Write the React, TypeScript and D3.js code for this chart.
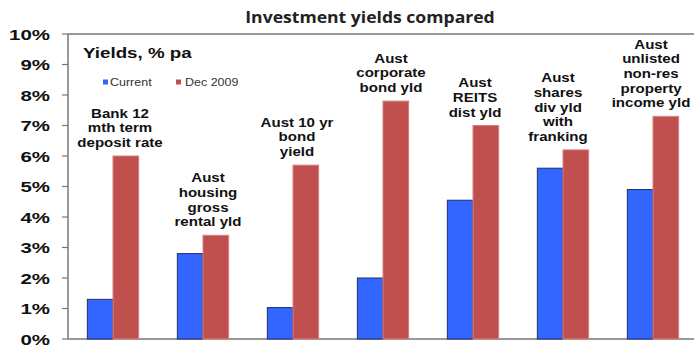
import React from "react";
import * as d3 from "d3";

const categories: string[][] = [
  ["Bank 12", "mth term", "deposit rate"],
  ["Aust", "housing", "gross", "rental yld"],
  ["Aust 10 yr", "bond", "yield"],
  ["Aust", "corporate", "bond yld"],
  ["Aust", "REITS", "dist yld"],
  ["Aust", "shares", "div yld", "with", "franking"],
  ["Aust", "unlisted", "non-res", "property", "income yld"],
];
const currentValues = [1.3, 2.8, 1.03, 2.0, 4.55, 5.6, 4.9];
const dec2009Values = [6.0, 3.4, 5.7, 7.8, 7.0, 6.2, 7.3];
const yTicks = [0, 1, 2, 3, 4, 5, 6, 7, 8, 9, 10];
const seriesNames = ["Current", "Dec 2009"];

const W = 694;
const H = 349;
const left = 68;
const top = 34;
const bottom = 339;
const right = 698;
const labelDx = [7, 5, 4, 8, 2, -5, -2];

type TProps = {
  x: number;
  y: number;
  sx: number;
  anchor?: "start" | "middle" | "end";
  size: number;
  bold?: boolean;
  family?: string;
  fill?: string;
  children: React.ReactNode;
};

function T({ x, y, sx, anchor = "start", size, bold, family, fill = "#111", children }: TProps) {
  return (
    <text
      transform={`translate(${x},${y}) scale(${sx},1)`}
      textAnchor={anchor}
      fontSize={size}
      fontWeight={bold ? "bold" : "normal"}
      fontFamily={family}
      fill={fill}
    >
      {children}
    </text>
  );
}

export default function App() {
  const y = d3.scaleLinear().domain([0, 10]).range([bottom, top]);
  const x0 = d3
    .scaleBand<number>()
    .domain(categories.map((_, i) => i))
    .range([left, right])
    .paddingInner(0.43)
    .paddingOuter(0.215);
  const x1 = d3.scaleBand<number>().domain([0, 1]).range([0, x0.bandwidth()]);
  const colors = ["#3366FF", "#C0504D"];
  const strokes = ["#1F2F6F", "#D88080"];
  const series = [currentValues, dec2009Values];
  const lineH = 14.7;

  return (
    <svg
      width={W}
      height={H}
      style={{ position: "absolute", left: 0, top: 0 }}
      fontFamily="Liberation Sans, Arial, sans-serif"
    >
      <rect x={0} y={0} width={W} height={H} fill="#fff" />
      <T x={370} y={23} sx={1.1} anchor="middle" size={16} bold family="Open Sans, sans-serif" fill="#222">
        Investment yields compared
      </T>
      <line x1={left} x2={W} y1={top} y2={top} stroke="#777" strokeWidth={1.5} />
      <line x1={left} x2={left} y1={top} y2={bottom} stroke="#777" strokeWidth={1.5} />
      <line x1={left} x2={W} y1={bottom} y2={bottom} stroke="#777" strokeWidth={1.5} />
      {yTicks.map((t) => (
        <g key={t}>
          <line x1={left - 6} x2={left} y1={y(t)} y2={y(t)} stroke="#777" strokeWidth={1.2} />
          <T x={50} y={y(t) + 5.5} sx={1.32} anchor="end" size={15.5} bold>
            {t}%
          </T>
        </g>
      ))}
      <T x={83} y={58} sx={1.25} size={15} bold>
        Yields, % pa
      </T>
      {seriesNames.map((n, i) => (
        <g key={n}>
          <rect x={i === 0 ? 103 : 176} y={79.5} width={5} height={5} fill={colors[i]} />
          <T x={i === 0 ? 110 : 185} y={86} sx={1.25} size={10} fill="#333">
            {n}
          </T>
        </g>
      ))}
      {categories.map((lines, ci) => {
        const gx = x0(ci)!;
        const maxV = Math.max(currentValues[ci], dec2009Values[ci]);
        const lastBase = y(maxV) - 9;
        return (
          <g key={ci}>
            {series.map((vals, si) => (
              <rect
                key={si}
                x={gx + x1(si)!}
                y={y(vals[ci])}
                width={x1.bandwidth()}
                height={bottom - y(vals[ci])}
                fill={colors[si]}
                stroke={strokes[si]}
                strokeWidth={1}
              />
            ))}
            {lines.map((l, li) => (
              <T
                key={li}
                x={gx + x0.bandwidth() / 2 + labelDx[ci]}
                y={lastBase - (lines.length - 1 - li) * lineH}
                sx={1.16}
                anchor="middle"
                size={13}
                bold
              >
                {l}
              </T>
            ))}
          </g>
        );
      })}
    </svg>
  );
}
